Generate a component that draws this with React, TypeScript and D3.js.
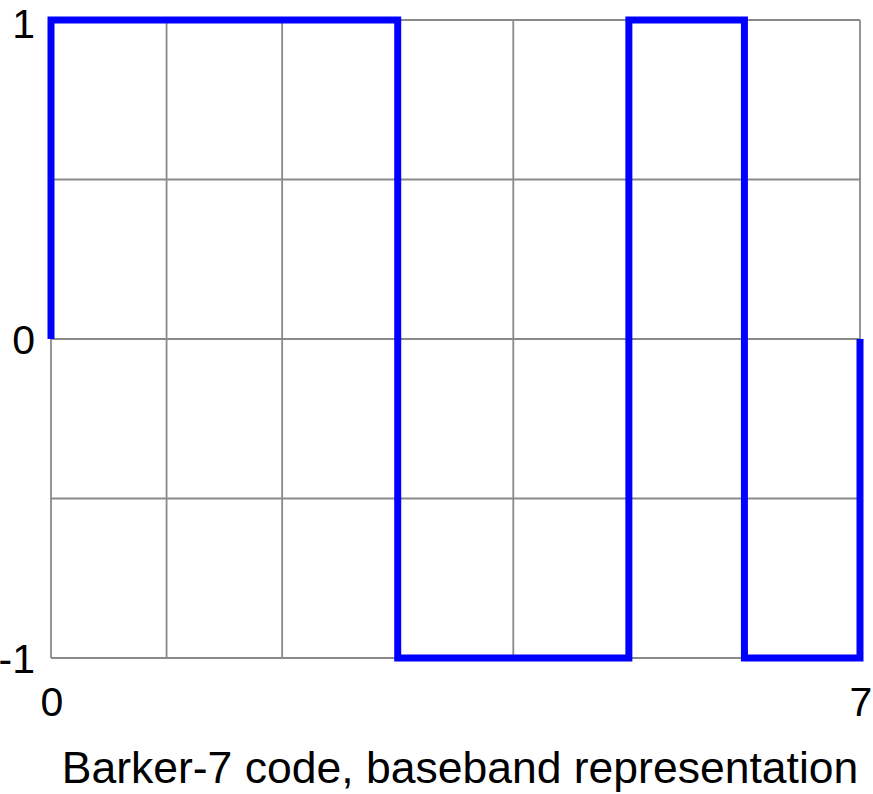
import * as d3 from "d3";
import { useEffect } from "react";

// Barker-7 chips
const chips = [1, 1, 1, -1, -1, 1, -1];
const xTicks = [0, 7];
const yTicks = [-1, 0, 1];
const xGrid = [0, 1, 2, 3, 4, 5, 6, 7];
const yGrid = [-1, -0.5, 0, 0.5, 1];
const caption = "Barker-7 code, baseband representation";

export default function App() {
  const width = 873;
  const height = 794;
  const font = "Liberation Sans, Arial, sans-serif";
  const tickSize = 41;

  useEffect(() => {
    document.body.style.margin = "0";
  }, []);

  const x = d3.scaleLinear([0, 7], [51, 860]);
  const y = d3.scaleLinear([-1, 1], [658, 20]);

  // start at 0, step through chips, return to 0 at the end
  const pts: [number, number][] = [[0, 0]];
  chips.forEach((c, i) => pts.push([i, c]));
  pts.push([chips.length, chips[chips.length - 1]]);
  pts.push([chips.length, 0]);

  const line = d3
    .line<[number, number]>()
    .x((d) => x(d[0]))
    .y((d) => y(d[1]))
    .curve(d3.curveStepAfter);

  return (
    <svg width={width} height={height} style={{ display: "block" }}>
      <rect width={width} height={height} fill="#fff" />
      <g stroke="#8a8a8a" strokeWidth={1.8}>
        {xGrid.map((v) => (
          <line key={"x" + v} x1={x(v)} x2={x(v)} y1={y(1)} y2={y(-1)} />
        ))}
        {yGrid.map((v) => (
          <line key={"y" + v} x1={x(0)} x2={x(7)} y1={y(v)} y2={y(v)} />
        ))}
      </g>
      <path
        d={line(pts) ?? ""}
        fill="none"
        stroke="#0000ff"
        strokeWidth={7}
        strokeLinejoin="miter"
        strokeLinecap="butt"
      />
      <g fontFamily={font} fontSize={tickSize} fill="#000">
        {yTicks.map((v) => (
          <text
            key={"yl" + v}
            x={35}
            y={Math.max(y(v) + 0.36 * tickSize, 0.93 * tickSize)}
            textAnchor="end"
          >
            {v}
          </text>
        ))}
        {xTicks.map((v) => (
          <text key={"xl" + v} x={x(v) + 1} y={716} textAnchor="middle">
            {v}
          </text>
        ))}
        <text x={460} y={783} fontSize={44.5} textAnchor="middle">
          {caption}
        </text>
      </g>
    </svg>
  );
}
